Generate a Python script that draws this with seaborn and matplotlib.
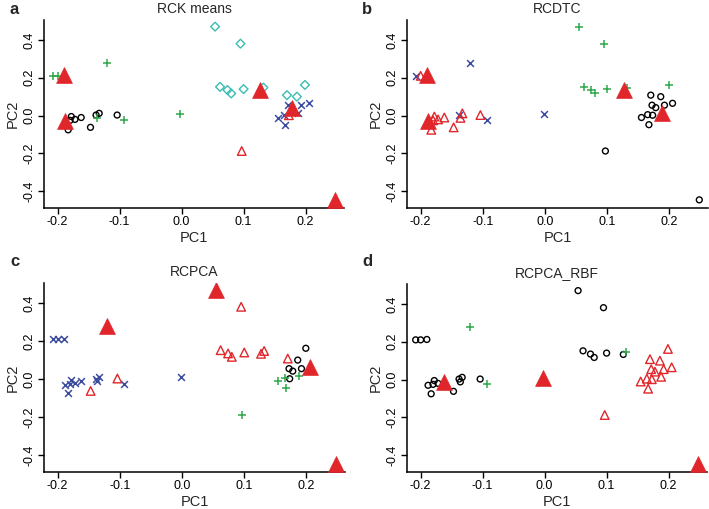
import matplotlib
matplotlib.use("Agg")
import matplotlib.pyplot as plt
import pandas as pd
import seaborn as sns

# PC coordinates of the samples (same in every panel)
pc1 = [-0.208, -0.200, -0.190, -0.188, -0.183, -0.180, -0.178, -0.172, -0.162, -0.147,
       -0.138, -0.136, -0.133, -0.120, -0.104, -0.093, -0.002, 0.054, 0.095, 0.062,
       0.074, 0.080, 0.100, 0.127, 0.132, 0.097, 0.170, 0.186, 0.199, 0.172,
       0.178, 0.192, 0.205, 0.173, 0.155, 0.165, 0.188, 0.167, 0.248]
pc2 = [0.210, 0.210, 0.212, -0.030, -0.075, -0.025, -0.005, -0.020, -0.010, -0.062,
       0.003, -0.012, 0.012, 0.280, 0.003, -0.025, 0.010, 0.470, 0.380, 0.152,
       0.135, 0.117, 0.140, 0.133, 0.148, -0.187, 0.108, 0.100, 0.162, 0.055,
       0.042, 0.055, 0.065, 0.002, -0.010, 0.005, 0.015, -0.048, -0.445]

# cluster symbol for each sample, per method (10 samples per chunk)
# o circle, t open triangle, p plus, x cross, d diamond, T filled triangle
rck_means = list("ppTToooooo" "opopoppddd" "dddTdtdddx" "TxxtxxxxT")
rcdtc = list("xtTTtttttt" "xttxtxxppp" "pppTpooopo" "ooooooToo")
rcpca = list("xxxxxxxxxt" "xxxTtxxTtt" "tttttptooo" "ooToppppT")
rcpca_rbf = list("ooooooooTo" "ooopopTooo" "oooopttttt" "ttttttttT")

titles = ["RCK means", "RCDTC", "RCPCA", "RCPCA_RBF"]
letters = ["a", "b", "c", "d"]

red = "#E1262B"
green = "#2DA84A"
blue = "#3A4BA0"
cyan = "#3BBDB2"

styles = {
    "o": dict(marker="o", s=18, facecolor="none", edgecolor="black", linewidth=1.0),
    "t": dict(marker="^", s=38, facecolor="none", edgecolor=red, linewidth=1.0),
    "d": dict(marker="D", s=20, facecolor="none", edgecolor=cyan, linewidth=1.0),
    "p": dict(marker="+", s=40, color=green, linewidth=1.1),
    "x": dict(marker="x", s=24, color=blue, linewidth=1.1),
    "T": dict(marker="^", s=130, color=red, edgecolor=red, linewidth=0.5),
}
draw_order = ["o", "d", "p", "x", "t", "T"]

sns.set_style("ticks")
plt.rcParams["font.family"] = ["Liberation Sans", "DejaVu Sans"]

W, H = 709, 509
fig = plt.figure(figsize=(W / 100, H / 100), dpi=100)

# axes boxes in pixels: left, right, top, bottom
boxes = [(44, 344, 20, 208), (407, 708, 20, 208),
         (44, 345, 283, 472), (407, 707, 284, 472)]
letter_pos = [(10, 9), (362, 9), (10, 262), (362, 262)]

for lab, title, letter, (l, r, t, b), (lx, ly) in zip(
        [rck_means, rcdtc, rcpca, rcpca_rbf], titles, letters, boxes, letter_pos):
    ax = fig.add_axes([l / W, 1 - b / H, (r - l) / W, (b - t) / H])
    df = pd.DataFrame({"PC1": pc1, "PC2": pc2, "cluster": lab})
    for code in draw_order:
        sub = df[df["cluster"] == code]
        if sub.empty:
            continue
        sns.scatterplot(data=sub, x="PC1", y="PC2", ax=ax, legend=False,
                        zorder=3 if code == "T" else 2, **styles[code])
    ax.set_xlim(-0.222, 0.262)
    ax.set_ylim(-0.488, 0.505)
    ax.set_xticks([-0.2, -0.1, 0.0, 0.1, 0.2])
    ax.set_yticks([-0.4, -0.2, 0.0, 0.2, 0.4])
    ax.set_xticklabels(["-0.2", "-0.1", "0.0", "0.1", "0.2"])
    ax.set_yticklabels(["-0.4", "-0.2", "0.0", "0.2", "0.4"], rotation=90, va="center")
    ax.tick_params(direction="out", length=4, width=1.0, labelsize=9, pad=2, colors="black")
    sns.despine(ax=ax)
    for sp in ["left", "bottom"]:
        ax.spines[sp].set_linewidth(1.1)
        ax.spines[sp].set_color("black")
    ax.set_xlabel("PC1", fontsize=10.5, labelpad=2)
    ax.set_ylabel("PC2", fontsize=10.5, labelpad=3)
    ax.set_title(title, fontsize=10, pad=5)
    fig.text(lx / W, 1 - ly / H, letter, fontsize=12, fontweight="bold",
             ha="left", va="center")

fig.savefig("out.png", dpi=100)
